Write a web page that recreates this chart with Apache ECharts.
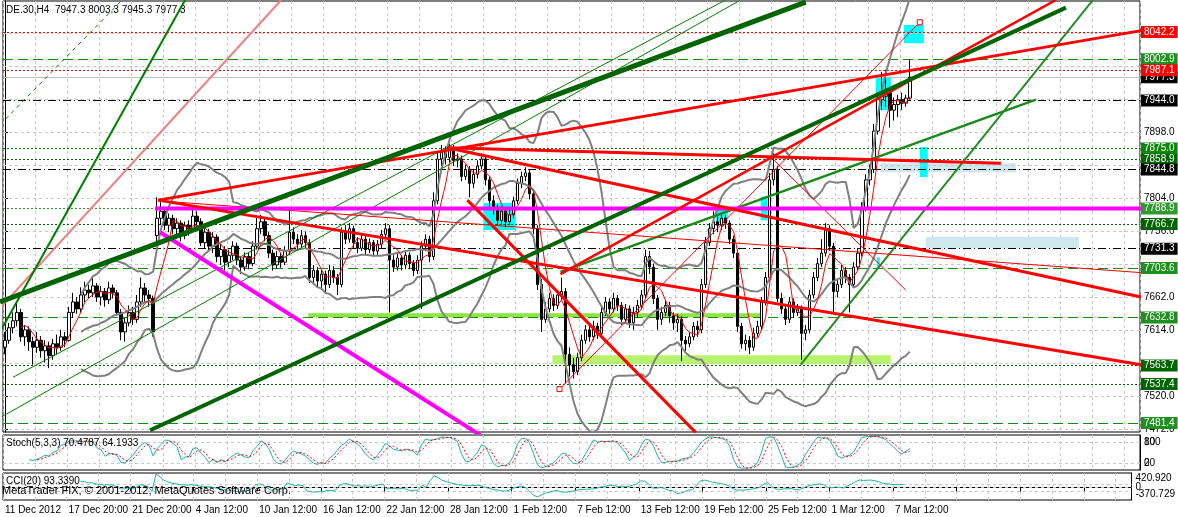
<!DOCTYPE html>
<html><head><meta charset="utf-8">
<script src="https://cdn.jsdelivr.net/npm/echarts@6/dist/echarts.min.js"></script>
<style>html,body{margin:0;padding:0;background:#fff}#c{width:1178px;height:517px}</style>
</head><body><div id="c"></div>
<script>
// ---------------- DATA ----------------
const symbolName = 'DE.30';
const timeframe = 'H4';
const dateLabels = ['11 Dec 2012','17 Dec 20:00','21 Dec 20:00','4 Jan 12:00','10 Jan 12:00','16 Jan 12:00','22 Jan 12:00','28 Jan 12:00','1 Feb 12:00','7 Feb 12:00','13 Feb 12:00','19 Feb 12:00','25 Feb 12:00','1 Mar 12:00','7 Mar 12:00'];
const barsPerLabel = 16;
const totalSlots = 284;
// [open, close, low, high]
const ohlc = [
[7590,7600,7580,7612],[7600,7618,7595,7625],[7618,7628,7610,7640],[7628,7640,7620,7655],[7640,7605,7598,7645],
[7605,7615,7592,7622],[7615,7598,7585,7620],[7598,7590,7565,7605],[7590,7600,7582,7612],[7600,7585,7575,7606],
[7585,7592,7568,7600],[7592,7578,7560,7598],[7578,7595,7572,7602],[7595,7590,7580,7608],[7590,7605,7585,7615],
[7605,7600,7590,7612],[7600,7640,7598,7648],[7640,7655,7632,7668],[7655,7645,7638,7662],[7645,7665,7640,7676],
[7665,7672,7655,7684],[7672,7668,7660,7680],[7668,7678,7662,7690],[7678,7662,7655,7682],[7662,7670,7650,7678],
[7670,7658,7648,7675],[7658,7675,7652,7684],[7675,7668,7660,7680],[7668,7640,7635,7672],[7640,7612,7600,7645],
[7612,7625,7598,7632],[7625,7640,7620,7650],[7640,7630,7622,7648],[7630,7655,7625,7665],[7655,7675,7648,7690],
[7675,7665,7655,7682],[7665,7660,7648,7672],[7660,7612,7605,7664],[7750,7775,7740,7805],[7775,7785,7765,7798],
[7785,7765,7758,7790],[7765,7775,7755,7782],[7775,7760,7752,7780],[7760,7768,7748,7775],[7768,7750,7742,7772],
[7750,7765,7745,7770],[7765,7760,7750,7772],[7760,7778,7755,7788],[7778,7770,7762,7785],[7770,7740,7735,7775],
[7740,7755,7732,7762],[7755,7735,7728,7760],[7735,7748,7725,7755],[7748,7720,7712,7752],[7720,7730,7708,7738],
[7730,7712,7700,7735],[7712,7722,7705,7730],[7722,7735,7715,7742],[7735,7715,7708,7740],[7715,7705,7695,7720],
[7705,7720,7700,7726],[7720,7710,7702,7725],[7710,7735,7706,7742],[7735,7760,7730,7778],[7760,7770,7752,7780],
[7770,7750,7742,7775],[7750,7725,7718,7755],[7725,7708,7700,7730],[7708,7720,7702,7728],[7720,7712,7704,7725],
[7712,7728,7708,7735],[7728,7755,7722,7790],[7755,7745,7738,7762],[7745,7738,7730,7752],[7738,7750,7732,7758],
[7750,7740,7732,7756],[7740,7690,7682,7745],[7690,7700,7680,7708],[7700,7685,7675,7705],[7685,7695,7672,7702],
[7695,7680,7668,7700],[7680,7700,7675,7708],[7700,7690,7682,7706],[7690,7680,7665,7695],[7680,7755,7676,7762],
[7755,7745,7738,7765],[7745,7760,7740,7768],[7760,7740,7732,7764],[7740,7732,7725,7748],[7732,7745,7728,7752],
[7745,7730,7722,7750],[7730,7740,7725,7746],[7740,7728,7720,7744],[7728,7738,7722,7744],[7738,7752,7732,7758],
[7752,7760,7745,7768],[7760,7715,7640,7765],[7715,7705,7698,7722],[7705,7718,7700,7725],[7718,7708,7700,7722],
[7708,7722,7702,7728],[7722,7710,7702,7726],[7710,7700,7692,7715],[7700,7715,7695,7722],[7715,7735,7645,7742],
[7735,7745,7728,7752],[7745,7720,7712,7750],[7720,7800,7715,7812],[7800,7860,7795,7870],[7860,7870,7850,7880],
[7870,7862,7852,7878],[7862,7875,7855,7882],[7875,7858,7850,7880],[7858,7860,7848,7868],[7860,7835,7828,7865],
[7835,7845,7830,7852],[7845,7825,7805,7850],[7825,7838,7818,7845],[7838,7850,7832,7858],[7850,7860,7845,7868],
[7860,7830,7822,7865],[7830,7800,7792,7835],[7800,7790,7780,7808],[7790,7772,7765,7795],[7772,7785,7766,7792],
[7785,7770,7762,7790],[7770,7780,7765,7788],[7780,7800,7775,7806],[7800,7825,7795,7832],[7825,7835,7818,7842],
[7835,7840,7828,7848],[7840,7810,7802,7845],[7810,7760,7752,7815],[7760,7680,7672,7765],[7680,7630,7612,7688],
[7630,7645,7625,7655],[7645,7660,7640,7668],[7660,7650,7642,7666],[7650,7665,7645,7672],[7665,7670,7658,7690],
[7670,7580,7538,7675],[7580,7565,7548,7590],[7565,7555,7545,7575],[7555,7575,7550,7582],[7575,7600,7570,7608],
[7600,7615,7595,7622],[7615,7605,7598,7620],[7605,7620,7600,7628],[7620,7610,7602,7625],[7610,7640,7606,7648],
[7640,7655,7635,7662],[7655,7645,7638,7660],[7645,7660,7640,7668],[7660,7650,7642,7665],[7650,7630,7622,7655],
[7630,7645,7625,7652],[7645,7625,7618,7650],[7625,7640,7615,7648],[7640,7650,7632,7658],[7650,7665,7645,7672],
[7665,7720,7660,7730],[7720,7705,7695,7728],[7705,7660,7652,7710],[7660,7630,7615,7665],[7630,7640,7622,7648],
[7640,7650,7635,7658],[7650,7635,7625,7655],[7635,7625,7615,7640],[7625,7630,7612,7638],[7630,7600,7570,7635],
[7600,7595,7585,7606],[7595,7605,7590,7612],[7605,7620,7600,7626],[7620,7615,7605,7628],[7615,7680,7610,7688],
[7680,7740,7675,7748],[7740,7760,7735,7768],[7760,7770,7752,7785],[7770,7765,7755,7778],[7765,7775,7758,7782],
[7775,7768,7760,7780],[7768,7745,7738,7772],[7745,7725,7718,7750],[7725,7620,7612,7730],[7620,7595,7588,7625],
[7595,7600,7585,7608],[7600,7590,7580,7606],[7590,7610,7585,7618],[7610,7620,7605,7628],[7620,7655,7615,7662],
[7655,7690,7650,7698],[7690,7830,7685,7840],[7830,7845,7822,7868],[7845,7660,7655,7850],[7660,7645,7638,7668],
[7645,7630,7622,7650],[7630,7655,7625,7662],[7655,7640,7632,7660],[7640,7645,7635,7652],[7645,7610,7572,7650],
[7610,7615,7600,7622],[7615,7665,7610,7672],[7665,7690,7660,7698],[7690,7710,7685,7718],[7710,7725,7705,7745],
[7725,7760,7720,7768],[7760,7735,7728,7765],[7735,7670,7640,7740],[7670,7680,7662,7688],[7680,7700,7675,7708],
[7700,7690,7682,7705],[7690,7680,7640,7695],[7680,7705,7675,7712],[7705,7725,7700,7732],[7725,7790,7720,7798],
[7790,7830,7785,7838],[7830,7845,7822,7852],[7845,7900,7840,7910],[7900,7945,7895,7955],[7945,7950,7930,7985],
[7950,7955,7935,7988],[7955,7930,7905,7960],[7930,7938,7915,7948],[7938,7945,7920,7952],[7945,7940,7930,7955],
[7940,7947.3,7935,7952],[7947.3,7977.3,7945.3,8003.3]
];
const priceAxisLabels = [7472, 7520, 7614, 7662, 7756, 7804, 7898];
const priceGridLines = [7472, 7519.3, 7566.7, 7614, 7661.3, 7708.7, 7756, 7803.3, 7850.7, 7898, 7945.3, 7992.7, 8040];
const priceRange = [7468.5, 8086.5];
// horizontal levels
const levelPrices = [8042.2, 8002.9, 7977.3, 7987.1, 7944.0, 7875.0, 7858.9, 7844.8, 7788.9, 7766.7, 7731.3, 7703.6, 7632.8, 7563.7, 7537.4, 7481.4];
const levelKinds  = ['redDot','greenDash','bid','redDot','dashDot','greenDot','darkDot','dashDot','greenDot2','darkDot','dashDot','greenDash','greenDash','darkDot','darkDot','greenDash'];
// trend lines [bar0, price0, bar1, price1]
const thickGreenUpper = [-1.25, 7655, 200, 8085];
const thickGreenLower = [36.25, 7471, 265, 8077];
const greenMid1 = [138.75, 7698, 257.5, 7945];
const greenMid2 = [198.75, 7565, 271.75, 8088];
const greenSteep = [-1.25, 7612, 45, 8088];
const salmonSteep = [-1.25, 7646, 69, 8088];
const greenThinDash = [-1.25, 7909, 29.25, 8088];
const greenThin1 = [2, 7547, 180, 8088];
const greenThin2 = [-1.25, 7489, 183.75, 8088];
const redUpper = [38.25, 7801, 283.75, 8044];
const redFromTop = [110.5, 7876, 283.75, 7662];
const redLowerFan = [38.25, 7801, 283.75, 7565];
const redFlat = [110.5, 7876, 248.75, 7854];
const redRising = [138.75, 7695, 262.5, 8088];
const redSteepDown = [115.5, 7801, 172.5, 7468];
const redThinFlat = [38.25, 7800, 283.75, 7697];
const redThinDiag = [138.5, 7530, 228.5, 8056];
const redThinDown = [191.25, 7863, 225, 7672];
const magentaFlat = [37.5, 7788.9, 283.75, 7788.9];
const magentaDown = [38.75, 7755, 118.75, 7464];
const supportBand1 = [75.75, 7636, 189.25, 7636];
const supportBand2 = [136.75, 7572, 221.25, 7572];
// rectangles [bar0, price0, bar1, price1]
const cyanBoxes = [[119.5,7797,127.5,7758],[217.5,7978,221.25,7930],[224.5,8052,229.5,8026],[177.5,7791,180.5,7768],[188.75,7806,190.5,7772],[217.75,7719,218.5,7704],[228.5,7877,230.5,7834]];
const paleBoxes = [[218.75,7854,252.5,7841],[230,7748,268.25,7732]];
// sub windows
const stochText = 'Stoch(5,3,3) 70.4787 64.1933';
const stochLevels = [20, 80];
const stochEdgeLabels = ['0', '100'];
const cciText = 'CCI(20) 93.3390';
const cciLevels = [100, 0, -100];
const cciRange = [-370.729, 420.920];
const copyrightText = 'MetaTrader FIX, \u00a9 2001-2012, MetaQuotes Software Corp.';

// ---------------- INDICATORS ----------------
const closes = ohlc.map(r => r[1]);
function sma(a, n) { return a.map((v, i) => { if (i < n - 1) return null; let s = 0; for (let j = i - n + 1; j <= i; j++) s += a[j]; return s / n; }); }
function bb(a, n, k) {
  const m = sma(a, n), up = [], lo = [];
  a.forEach((v, i) => { if (m[i] == null) { up.push(null); lo.push(null); return; }
    let s = 0; for (let j = i - n + 1; j <= i; j++) s += (a[j] - m[i]) ** 2; const sd = Math.sqrt(s / n);
    up.push(m[i] + k * sd); lo.push(m[i] - k * sd); });
  return { m, up, lo };
}
const band = bb(closes, 20, 2.2);
const ma5 = sma(closes, 5);
// stochastic 5,3,3
const kRaw = [], stK = [];
ohlc.forEach((r, i) => {
  if (i < 4) { kRaw.push(null); return; }
  let hh = -1e9, ll = 1e9; for (let j = i - 4; j <= i; j++) { hh = Math.max(hh, ohlc[j][3]); ll = Math.min(ll, ohlc[j][2]); }
  kRaw.push([r[1] - ll, hh - ll]);
});
kRaw.forEach((v, i) => { if (i < 6) { stK.push(null); return; } let n = 0, d = 0; for (let j = i - 2; j <= i; j++) { n += kRaw[j][0]; d += kRaw[j][1]; } stK.push(d ? 100 * n / d : 50); });
const stD = stK.map((v, i) => (i < 8 ? null : (stK[i] + stK[i - 1] + stK[i - 2]) / 3));
// CCI 20
const tp = ohlc.map(r => (r[1] + r[2] + r[3]) / 3);
const tpM = sma(tp, 20);
const cci = tp.map((v, i) => { if (tpM[i] == null) return null; let md = 0; for (let j = i - 19; j <= i; j++) md += Math.abs(tp[j] - tpM[i]); md /= 20; return md ? (v - tpM[i]) / (0.015 * md) : 0; });

// ---------------- CHART ----------------
const FONT = 'Liberation Sans';
const cats = Array.from({ length: totalSlots }, (_, i) => String(i));
const labelFor = i => (i % barsPerLabel === 0 && dateLabels[i / barsPerLabel]) ? dateLabels[i / barsPerLabel] : '';
const vSplit = { show: true, interval: (i) => i % 8 === 0, lineStyle: { color: '#c8c8c8', type: [3, 3], width: 1 } };
const last = ohlc[ohlc.length - 1];
const header = `${symbolName},${timeframe}  ${last[0].toFixed(1)} ${last[3].toFixed(1)} ${last[2].toFixed(1)} ${last[1].toFixed(1)}`;

const kindStyle = {
  redDot:   { c: '#ff0000', t: [2, 2], bg: '#ff0000' },
  greenDash:{ c: '#108a10', t: [10, 5], bg: '#1f8f1f' },
  bid:      { c: '#c0c0c0', t: 'solid', bg: '#000000' },
  dashDot:  { c: '#000000', t: [8, 3, 1, 3], bg: '#000000' },
  greenDot: { c: '#008000', t: [2, 2], bg: '#0a870a' },
  greenDot2:{ c: '#2e9a2e', t: [2, 2], bg: '#2e9a2e' },
  darkDot:  { c: '#006400', t: [2, 2], bg: '#006400' }
};

function tl(arr, color, width, type, extra) {
  return Object.assign({ type: 'line', xAxisIndex: 1, yAxisIndex: 0, data: [[arr[0], arr[1]], [arr[2], arr[3]]],
    symbol: 'none', clip: true, silent: true, z: 4, lineStyle: { color, width, type: type || 'solid' } }, extra || {});
}

const series = [
  { type: 'line', xAxisIndex: 1, yAxisIndex: 0, data: [], silent: true, z: 0,
    markLine: { symbol: ['none', 'none'], silent: true, animation: false, label: { show: false },
      lineStyle: { color: '#c8c8c8', type: [3, 3], width: 1 }, data: priceGridLines.map(v => ({ yAxis: v })) } },
  { type: 'line', xAxisIndex: 1, yAxisIndex: 0, data: [], silent: true, z: 1,
    markArea: { silent: true, animation: false, itemStyle: { color: '#cfe8ee' },
      data: paleBoxes.map(b => [{ coord: [b[0], b[1]] }, { coord: [b[2], b[3]] }]) } },
  { type: 'line', xAxisIndex: 1, yAxisIndex: 0, data: [], silent: true, z: 1,
    markArea: { silent: true, animation: false, itemStyle: { color: '#00ffff' },
      data: cyanBoxes.map(b => [{ coord: [b[0], b[1]] }, { coord: [b[2], b[3]] }]) } },
  { type: 'line', xAxisIndex: 1, yAxisIndex: 0, data: [], silent: true, z: 3,
    markLine: { symbol: ['none', 'none'], silent: true, animation: false,
      data: levelPrices.map((p, i) => { const s = kindStyle[levelKinds[i]]; return { yAxis: p,
        lineStyle: { color: s.c, type: s.t, width: 1 },
        label: { show: true, position: 'end', distance: 1, formatter: p.toFixed(1), color: '#fff', backgroundColor: s.bg,
          padding: [1, 3, 1, 3], fontSize: 10, fontFamily: FONT } }; }) } },
  tl(supportBand1, '#8ee63c', 4, 'solid', { z: 3 }),
  tl(supportBand2, '#b7f36c', 9, 'solid', { z: 3 }),
  { type: 'candlestick', xAxisIndex: 0, yAxisIndex: 0, data: ohlc, barWidth: 3, z: 5, silent: true,
    itemStyle: { color: '#ffffff', color0: '#000000', borderColor: '#000000', borderColor0: '#000000', borderWidth: 1 } },
  { type: 'line', xAxisIndex: 0, yAxisIndex: 0, data: band.up, symbol: 'none', silent: true, z: 6, lineStyle: { color: '#808080', width: 2 } },
  { type: 'line', xAxisIndex: 0, yAxisIndex: 0, data: band.m, symbol: 'none', silent: true, z: 6, lineStyle: { color: '#808080', width: 2 } },
  { type: 'line', xAxisIndex: 0, yAxisIndex: 0, data: band.lo, symbol: 'none', silent: true, z: 6, lineStyle: { color: '#808080', width: 2 } },
  { type: 'line', xAxisIndex: 0, yAxisIndex: 0, data: ma5, symbol: 'none', silent: true, z: 6, lineStyle: { color: '#ff0000', width: 1 } },
  tl(greenThin1, '#008000', 1, 'solid', { z: 7 }),
  tl(greenThin2, '#008000', 1, 'solid', { z: 7 }),
  tl(greenThinDash, '#008000', 1, [4, 4], { z: 7 }),
  tl(salmonSteep, '#f08080', 2, 'solid', { z: 7 }),
  tl(greenSteep, '#008000', 2, 'solid', { z: 7 }),
  tl(greenMid1, '#1a8a1a', 2.5, 'solid', { z: 7 }),
  tl(greenMid2, '#228b22', 2, 'solid', { z: 7 }),
  tl(redThinFlat, '#ff0000', 1, 'solid', { z: 7 }),
  tl(redThinDown, '#ff0000', 1, 'solid', { z: 7 }),
  tl(redThinDiag, '#ff0000', 1, 'solid', { z: 8, showSymbol: true, symbol: 'rect', symbolSize: 5, itemStyle: { color: '#fff', borderColor: '#ff0000', borderWidth: 1 } }),
  tl(magentaFlat, '#ff00ff', 4, 'solid', { z: 8 }),
  tl(magentaDown, '#ff00ff', 4, 'solid', { z: 8 }),
  tl(redFlat, '#ff0000', 3, 'solid', { z: 8 }),
  tl(redLowerFan, '#ff0000', 3, 'solid', { z: 8 }),
  tl(redFromTop, '#ff0000', 3, 'solid', { z: 8 }),
  tl(redSteepDown, '#ff0000', 3, 'solid', { z: 8 }),
  tl(redRising, '#ff0000', 2.5, 'solid', { z: 8 }),
  tl(redUpper, '#ff0000', 3, 'solid', { z: 8 }),
  tl(thickGreenLower, '#006400', 4, 'solid', { z: 9 }),
  tl(thickGreenUpper, '#006400', 5, 'solid', { z: 9 }),
  { type: 'line', xAxisIndex: 2, yAxisIndex: 1, data: stK, symbol: 'none', silent: true, z: 5, lineStyle: { color: '#20b2aa', width: 1 },
    markLine: { symbol: ['none', 'none'], silent: true, animation: false, label: { show: false }, lineStyle: { color: '#c8c8c8', type: [3, 3], width: 1 }, data: stochLevels.map(v => ({ yAxis: v })) } },
  { type: 'line', xAxisIndex: 2, yAxisIndex: 1, data: stD, symbol: 'none', silent: true, z: 5, lineStyle: { color: '#ff0000', width: 1, type: [2, 2] } },
  { type: 'line', xAxisIndex: 3, yAxisIndex: 3, data: cci, symbol: 'none', silent: true, z: 5, clip: true, lineStyle: { color: '#20b2aa', width: 1 },
    markLine: { symbol: ['none', 'none'], silent: true, animation: false, label: { show: false }, lineStyle: { color: '#c8c8c8', type: [3, 3], width: 1 }, data: cciLevels.map(v => ({ yAxis: v })) } }
];

const txt = (size) => ({ fontSize: size, fontWeight: 'normal', fontFamily: FONT, color: '#000' });
const option = {
  animation: false,
  backgroundColor: '#ffffff',
  title: [
    { text: header, left: 6, top: 5, padding: 0, textStyle: txt(10) },
    { text: stochText, left: 6, top: 438, padding: 0, textStyle: txt(10) },
    { text: cciText, left: 6, top: 476, padding: 0, textStyle: txt(10) },
    { text: copyrightText, left: 2, top: 485, padding: 0, textStyle: txt(11) }
  ],
  grid: [
    { left: 3, right: 38, top: 1, height: 431, show: true, borderColor: '#000', borderWidth: 1 },
    { left: 3, right: 38, top: 435, height: 35, show: true, borderColor: '#000', borderWidth: 1 },
    { left: 3, right: 38, top: 473, height: 27, show: true, borderColor: '#000', borderWidth: 1 }
  ],
  xAxis: [
    { type: 'category', gridIndex: 0, data: cats, boundaryGap: true, axisLine: { show: false }, axisTick: { show: false }, axisLabel: { show: false }, splitLine: vSplit },
    { type: 'value', gridIndex: 0, min: -0.5, max: totalSlots - 0.5, show: false, splitLine: { show: false } },
    { type: 'category', gridIndex: 1, data: cats, boundaryGap: true, axisLine: { show: false }, axisTick: { show: false }, axisLabel: { show: false }, splitLine: vSplit },
    { type: 'category', gridIndex: 2, data: cats, boundaryGap: true, axisLine: { show: true, lineStyle: { color: '#000' } },
      axisTick: { show: true, interval: (i) => i % barsPerLabel === 0, length: 4, lineStyle: { color: '#000' } },
      axisLabel: { show: true, interval: (i) => labelFor(i) !== '', formatter: (v, i) => labelFor(i), align: 'left', margin: 5, fontSize: 10, fontFamily: FONT, color: '#000' },
      splitLine: vSplit }
  ],
  yAxis: [
    { type: 'value', gridIndex: 0, position: 'right', min: priceRange[0], max: priceRange[1], splitLine: { show: false },
      axisLine: { show: true, lineStyle: { color: '#000' } },
      axisTick: { show: true, customValues: priceAxisLabels, length: 3, lineStyle: { color: '#000' } },
      axisLabel: { customValues: priceAxisLabels, formatter: v => v.toFixed(1), fontSize: 10, fontFamily: FONT, color: '#000', margin: 4 } },
    { type: 'value', gridIndex: 1, position: 'right', min: 0, max: 100, splitLine: { show: false },
      axisLine: { show: true, lineStyle: { color: '#000' } }, axisTick: { show: false },
      axisLabel: { customValues: stochLevels, formatter: v => String(v), fontSize: 10, fontFamily: FONT, color: '#000', margin: 4 } },
    { type: 'value', gridIndex: 1, position: 'right', min: 0, max: 100, splitLine: { show: false },
      axisLine: { show: false }, axisTick: { show: false },
      axisLabel: { customValues: stochLevels, formatter: v => (v === stochLevels[0] ? stochEdgeLabels[0] : stochEdgeLabels[1]), fontSize: 10, fontFamily: FONT, color: '#000', margin: 4 } },
    { type: 'value', gridIndex: 2, position: 'right', min: cciRange[0], max: cciRange[1], splitLine: { show: false },
      axisLine: { show: true, lineStyle: { color: '#000' } }, axisTick: { show: false },
      axisLabel: { customValues: cciLevels, formatter: v => String(v), fontSize: 10, fontFamily: FONT, color: '#000', margin: 4 } },
    { type: 'value', gridIndex: 2, position: 'right', min: cciRange[0], max: cciRange[1], splitLine: { show: false },
      axisLine: { show: false }, axisTick: { show: false },
      axisLabel: { customValues: [274, -195], formatter: v => (v > 0 ? cciRange[1].toFixed(3) : cciRange[0].toFixed(3)), fontSize: 10, fontFamily: FONT, color: '#000', margin: 4 } }
  ],
  series
};
const chart = echarts.init(document.getElementById('c'), null, { renderer: 'canvas' });
chart.setOption(option);
</script></body></html>
